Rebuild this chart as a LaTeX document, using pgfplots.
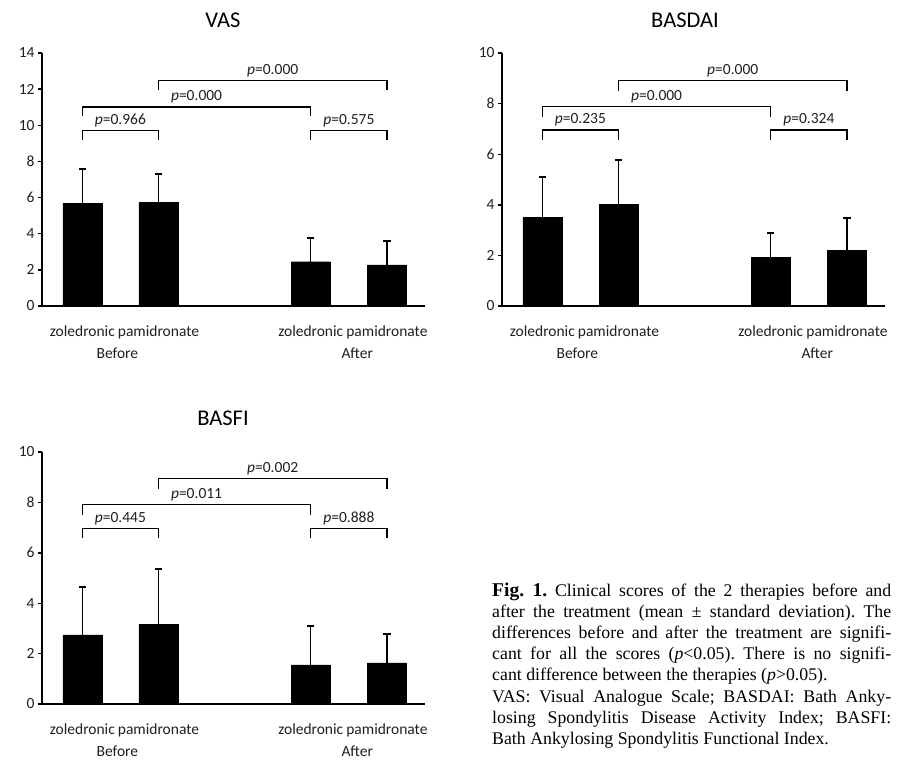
\documentclass[border=0pt]{standalone}
\usepackage{pgfplots}
\pgfplotsset{compat=1.18}
\usepackage{pgfplotstable}
\usepackage{fontspec}
\setmainfont{Carlito}
\newfontfamily\timesfont{Liberation Serif}

\pgfplotstableread{
x y e
0 5.68 1.92
1 5.72 1.57
3 2.45 1.31
4 2.27 1.33
}\vastable
\pgfplotstableread{
x y e
0 3.50 1.61
1 4.03 1.73
3 1.91 0.96
4 2.21 1.28
}\basdaitable
\pgfplotstableread{
x y e
0 2.74 1.92
1 3.16 2.18
3 1.55 1.53
4 1.63 1.15
}\basfitable

\pgfplotsset{
  panel/.style={
    scale only axis, width=383bp, height=253bp, anchor=south west,
    xmin=-0.53, xmax=4.5, ymin=0,
    axis x line=bottom, axis y line=left,
    axis line style={-, line width=1.4bp, black},
    xtick={0,1,3,4},
    xticklabels={zoledronic,pamidronate,zoledronic,pamidronate},
    x tick style={draw=none},
    y tick style={line width=1.4bp, black},
    tick align=outside, major tick length=4bp,
    ticklabel style={font=\fontsize{15.5bp}{18bp}\selectfont, text=black!88},
    xticklabel style={anchor=base, yshift=-26bp},
    /pgf/number format/assume math mode=true,
    clip=false,
  },
  mybar/.style={ybar, bar width=39bp, fill=black, draw=black,
    error bars/.cd, y dir=plus, y explicit,
    error bar style={line width=1.4bp, black},
    error mark options={rotate=90, line width=2bp, mark size=3.6bp, black}},
  brk/.style={black, line width=1.3bp, mark=none},
}
\tikzset{
  plab/.style={anchor=base, yshift=6bp, font=\fontsize{15.5bp}{18bp}\selectfont, text=black!88},
  glab/.style={anchor=base, yshift=-52bp, font=\fontsize{15.5bp}{18bp}\selectfont, text=black!88},
  ttl/.style={font=\fontsize{22.5bp}{26bp}\selectfont},
}
\newcommand{\pp}[1]{\textit{p}=#1}

\begin{document}
\begin{tikzpicture}
\path[use as bounding box] (0,0) rectangle (898bp,-782bp);

% VAS
\node[ttl] at (223bp,-20bp) {VAS};
\begin{axis}[panel, at={(42bp,-306bp)}, ymax=14, ytick={0,2,...,14}]
\addplot[mybar] table[x=x, y=y, y error=e] {\vastable};
\addplot[brk] coordinates {(0,9.2) (0,9.7) (1,9.7) (1,9.2)};
\addplot[brk] coordinates {(3,9.2) (3,9.7) (4,9.7) (4,9.2)};
\addplot[brk] coordinates {(0,10.5) (0,11.02) (3,11.02) (3,10.5)};
\addplot[brk] coordinates {(1,11.95) (1,12.47) (4,12.47) (4,11.95)};
\node[plab] at (axis cs:0.5,9.7) {\pp{0.966}};
\node[plab] at (axis cs:3.5,9.7) {\pp{0.575}};
\node[plab] at (axis cs:1.5,11.02) {\pp{0.000}};
\node[plab] at (axis cs:2.5,12.47) {\pp{0.000}};
\node[glab] at (axis cs:0.46,0) {Before};
\node[glab] at (axis cs:3.61,0) {After};
\end{axis}

% BASDAI
\node[ttl] at (685bp,-20bp) {BASDAI};
\begin{axis}[panel, at={(502bp,-306bp)}, ymax=10, ytick={0,2,...,10}]
\addplot[mybar] table[x=x, y=y, y error=e] {\basdaitable};
\addplot[brk] coordinates {(0,6.56) (0,6.96) (1,6.96) (1,6.56)};
\addplot[brk] coordinates {(3,6.56) (3,6.96) (4,6.96) (4,6.56)};
\addplot[brk] coordinates {(0,7.48) (0,7.88) (3,7.88) (3,7.48)};
\addplot[brk] coordinates {(1,8.5) (1,8.9) (4,8.9) (4,8.5)};
\node[plab] at (axis cs:0.5,6.96) {\pp{0.235}};
\node[plab] at (axis cs:3.5,6.96) {\pp{0.324}};
\node[plab] at (axis cs:1.5,7.88) {\pp{0.000}};
\node[plab] at (axis cs:2.5,8.9) {\pp{0.000}};
\node[glab] at (axis cs:0.46,0) {Before};
\node[glab] at (axis cs:3.61,0) {After};
\end{axis}

% BASFI
\node[ttl] at (223bp,-418bp) {BASFI};
\begin{axis}[panel, at={(42bp,-704bp)}, ymax=10, ytick={0,2,...,10}, height=252bp]
\addplot[mybar] table[x=x, y=y, y error=e] {\basfitable};
\addplot[brk] coordinates {(0,6.57) (0,6.96) (1,6.96) (1,6.57)};
\addplot[brk] coordinates {(3,6.57) (3,6.96) (4,6.96) (4,6.57)};
\addplot[brk] coordinates {(0,7.51) (0,7.91) (3,7.91) (3,7.51)};
\addplot[brk] coordinates {(1,8.55) (1,8.94) (4,8.94) (4,8.55)};
\node[plab] at (axis cs:0.5,6.96) {\pp{0.445}};
\node[plab] at (axis cs:3.5,6.96) {\pp{0.888}};
\node[plab] at (axis cs:1.5,7.91) {\pp{0.011}};
\node[plab] at (axis cs:2.5,8.94) {\pp{0.002}};
\node[glab] at (axis cs:0.46,0) {Before};
\node[glab] at (axis cs:3.61,0) {After};
\end{axis}

% Caption
\node[anchor=base west, inner sep=0] at (492bp,-596bp) {%
\parbox[t]{399bp}{\frenchspacing\timesfont\fontsize{17.8bp}{21.2bp}\selectfont
\makebox[399bp][s]{{\fontsize{19.5bp}{21bp}\selectfont\bfseries Fig. 1.} Clinical scores of the 2 therapies before and}\\
\makebox[399bp][s]{after the treatment (mean ± standard deviation). The}\\
\makebox[399bp][s]{differences before and after the treatment are signifi-}\\
\makebox[399bp][s]{cant for all the scores (\textit{p}<0.05). There is no signifi-}\\
cant difference between the therapies (\textit{p}>0.05).\\
\makebox[399bp][s]{VAS: Visual Analogue Scale; BASDAI: Bath Anky-}\\
\makebox[399bp][s]{losing Spondylitis Disease Activity Index; BASFI:}\\
Bath Ankylosing Spondylitis Functional Index.}};
\end{tikzpicture}
\end{document}
